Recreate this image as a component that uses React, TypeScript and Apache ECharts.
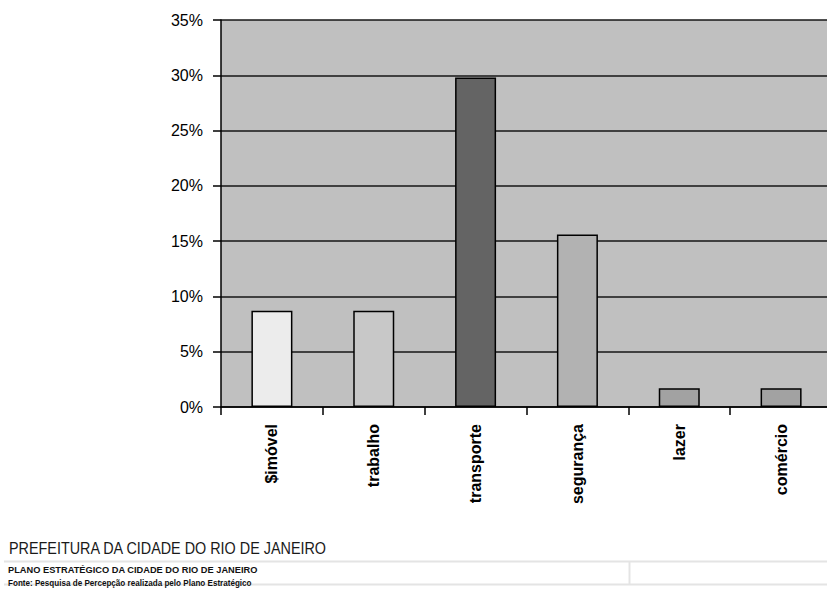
import React, { useEffect, useRef } from "react";
import * as echarts from "echarts";

// Survey answers (percent of respondents) per theme
const categories = ["$imóvel", "trabalho", "transporte", "segurança", "lazer", "comércio"];
const values = [8.7, 8.7, 29.8, 15.6, 1.7, 1.7];
const barColors = ["#ececec", "#c8c8c8", "#646464", "#b2b2b2", "#a2a2a2", "#a2a2a2"];

// Value axis ticks
const yMin = 0;
const yMax = 35;
const yStep = 5;

// Footer lines under the chart
const footerTitle = "PREFEITURA DA CIDADE DO RIO DE JANEIRO";
const footerPlan = "PLANO ESTRATÉGICO DA CIDADE DO RIO DE JANEIRO";
const footerSource = "Fonte: Pesquisa de Percepção realizada pelo Plano Estratégico";

const FONT = "'Liberation Sans', Arial, sans-serif";

// Horizontal squeeze so a line of text spans the given width
function fitScale(text: string, font: string, width: number): number {
  const c = document.createElement("canvas").getContext("2d");
  if (!c) return 1;
  c.font = font;
  const w = c.measureText(text).width;
  return w > 0 ? width / w : 1;
}

export default function App() {
  const ref = useRef<HTMLDivElement>(null);

  useEffect(() => {
    if (!ref.current) return;
    const chart = echarts.init(ref.current, undefined, { renderer: "svg" });

    const titleFont = `17px ${FONT}`;
    const planFont = `bold 9.5px ${FONT}`;
    const sourceFont = `bold 9px ${FONT}`;

    chart.setOption({
      animation: false,
      backgroundColor: "#ffffff",
      grid: {
        left: 221,
        top: 20,
        width: 611,
        height: 387,
        show: true,
        backgroundColor: "#c0c0c0",
        borderWidth: 0,
        containLabel: false,
        outerBoundsMode: "none",
      },
      xAxis: {
        type: "category",
        data: categories,
        boundaryGap: true,
        axisLine: { show: true, lineStyle: { color: "#000", width: 1.5 } },
        axisTick: { show: true, alignWithLabel: false, length: 8, lineStyle: { color: "#000", width: 1.5 } },
        axisLabel: {
          rotate: 90,
          margin: 17,
          fontFamily: FONT,
          fontSize: 16,
          fontWeight: "bold",
          color: "#000",
        },
        splitLine: { show: false },
      },
      yAxis: {
        type: "value",
        min: yMin,
        max: yMax,
        interval: yStep,
        axisLine: { show: true, lineStyle: { color: "#000", width: 1.5 } },
        axisTick: { show: true, length: 8, lineStyle: { color: "#000", width: 1.5 } },
        axisLabel: {
          formatter: "{value}%",
          margin: 18,
          fontFamily: FONT,
          fontSize: 16,
          color: "#000",
        },
        splitLine: { show: true, lineStyle: { color: "#161616", width: 1.6 } },
      },
      series: [
        {
          type: "bar",
          barWidth: 41,
          data: values.map((v, i) => ({
            value: v,
            itemStyle: { color: barColors[i], borderColor: "#000", borderWidth: 1.5 },
          })),
        },
      ],
      graphic: [
        // light frame around the footer lines
        { type: "line", shape: { x1: 4, y1: 561.5, x2: 827, y2: 561.5 }, style: { stroke: "#e4e4e4", lineWidth: 2 } },
        { type: "line", shape: { x1: 4, y1: 584.5, x2: 827, y2: 584.5 }, style: { stroke: "#e4e4e4", lineWidth: 2 } },
        { type: "line", shape: { x1: 629.5, y1: 561.5, x2: 629.5, y2: 584.5 }, style: { stroke: "#e4e4e4", lineWidth: 2 } },
        {
          type: "text",
          x: 9,
          y: 548.5,
          scaleX: fitScale(footerTitle, titleFont, 319),
          style: { text: footerTitle, font: titleFont, fill: "#1a1a1a", verticalAlign: "middle", align: "left" },
        },
        {
          type: "text",
          x: 8,
          y: 569.5,
          scaleX: fitScale(footerPlan, planFont, 250),
          style: { text: footerPlan, font: planFont, fill: "#111", verticalAlign: "middle", align: "left" },
        },
        {
          type: "text",
          x: 8,
          y: 583,
          scaleX: fitScale(footerSource, sourceFont, 244),
          style: { text: footerSource, font: sourceFont, fill: "#111", verticalAlign: "middle", align: "left" },
        },
      ],
    });

    return () => chart.dispose();
  }, []);

  return (
    <div
      ref={ref}
      style={{ position: "fixed", left: 0, top: 0, width: 827, height: 595, background: "#fff" }}
    />
  );
}
